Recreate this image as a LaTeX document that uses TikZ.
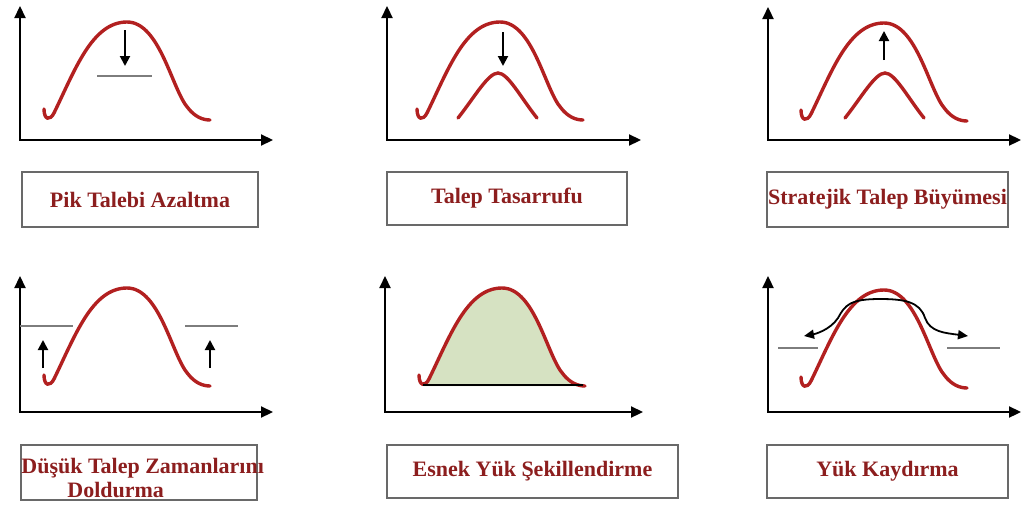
\documentclass[tikz,border=0pt]{standalone}
\usepackage{fontspec}
\setmainfont{Liberation Serif}
\usetikzlibrary{arrows.meta}

\definecolor{curvered}{RGB}{178,32,32}
\definecolor{textred}{RGB}{140,30,30}
\definecolor{boxgray}{RGB}{105,105,105}
\definecolor{levelgray}{RGB}{125,125,125}
\definecolor{loadgreen}{RGB}{214,226,194}

\tikzset{
  bell/.pic={
    \draw[pic actions] (-1,-8) .. controls (-1,3) and (5,4) .. (9,-4)
      .. controls (30,-47) and (47,-95) .. (82,-95)
      .. controls (115,-95) and (127,-27) .. (143,-9)
      .. controls (150,0) and (158,3) .. (165,3);
  },
  bellarea/.pic={
    \fill[pic actions] (4,3) -- (9,-4)
      .. controls (30,-47) and (47,-95) .. (82,-95)
      .. controls (115,-95) and (127,-27) .. (143,-9)
      .. controls (150,0) and (158,3) .. (165,3) -- cycle;
  },
  hump/.pic={
    \draw[pic actions] (0,0) .. controls (16,-20) and (30,-45) .. (40,-45)
      .. controls (50,-45) and (63,-20) .. (79,0);
  }
}

\begin{document}
\begin{tikzpicture}[x=1pt, y=-1pt,
    demand/.style={draw=curvered, line width=3.4pt, line cap=round},
    axis/.style={line width=2.2pt, {Triangle[length=12pt,width=11pt]}-{Triangle[length=12pt,width=11pt]}},
    move/.style={line width=2pt, -{Triangle[length=10pt,width=10pt]}},
    level/.style={draw=levelgray, line width=1.3pt},
    labeltext/.style={inner sep=0pt, text=textred,
      font=\fontsize{22}{24}\selectfont\bfseries, align=center},
    labelbox/.style={labeltext, draw=boxgray, line width=1.6pt}]
  \useasboundingbox (0,0) rectangle (1024,506);

  % top row
  \draw[axis] (20,6) |- (273,140);
  \pic[demand] at (45,117) {bell};
  \draw[move] (125,30) -- (125,66);
  \draw[level] (97,76) -- (152,76);
  \node[labelbox, minimum width=236pt, minimum height=55pt] (peakbox) at (140,199.5) {Pik Talebi Azaltma};

  \draw[axis] (387,6) |- (641,140);
  \pic[demand] at (418,117) {bell};
  \pic[demand] at (458,118) {hump};
  \draw[move] (503,32) -- (503,66);
  \node[labelbox, minimum width=240pt, minimum height=53pt] (savebox) at (507,198.5) {Talep Tasarrufu};

  \draw[axis] (768,7) |- (1021,140);
  \pic[demand] at (802,118) {bell};
  \pic[demand] at (845,118) {hump};
  \draw[move] (884,60) -- (884,31);
  \node[labelbox, minimum width=241pt, minimum height=55pt] (growbox) at (887.5,199.5) {Stratejik Talep Büyümesi};

  % bottom row
  \draw[axis] (20,276) |- (273,412);
  \pic[demand] at (45,383) {bell};
  \draw[level] (20,326) -- (73,326);
  \draw[level] (185,326) -- (238,326);
  \draw[move] (43,368) -- (43,340);
  \draw[move] (210,368) -- (210,340);
  \node[labelbox, minimum width=236pt, minimum height=55pt] (fillbox) at (139,472.5) {};
  \node[labeltext, anchor=west, align=left] (filltext) at ([xshift=1pt, yshift=-5pt]fillbox.west)
    {Düşük Talep Zamanlarını\\\hspace*{46pt}Doldurma};

  \draw[axis] (385,276) |- (643,412);
  \pic[fill=loadgreen] at (420,383) {bellarea};
  \pic[demand] at (420,383) {bell};
  \draw[line width=2.2pt] (423,385) -- (583,385);
  \node[labelbox, minimum width=291pt, minimum height=53pt] (flexbox) at (532.5,471.5) {Esnek Yük Şekillendirme};

  \draw[axis] (768,276) |- (1021,412);
  \pic[demand] at (802,385) {bell};
  \draw[level] (778,348) -- (818,348);
  \draw[level] (947,348) -- (1000,348);
  \draw[line width=1.8pt, {Triangle[length=10pt,width=9pt]}-{Triangle[length=10pt,width=9pt]}]
    (804,336) .. controls (815,334) and (830,330) .. (838,318)
    .. controls (845,305) and (850,299) .. (880,299)
    .. controls (905,299) and (920,302) .. (925,318)
    .. controls (930,332) and (945,333) .. (968,336);
  \node[labelbox, minimum width=241pt, minimum height=53pt] (shiftbox) at (887.5,471.5) {Yük Kaydırma};
\end{tikzpicture}
\end{document}
